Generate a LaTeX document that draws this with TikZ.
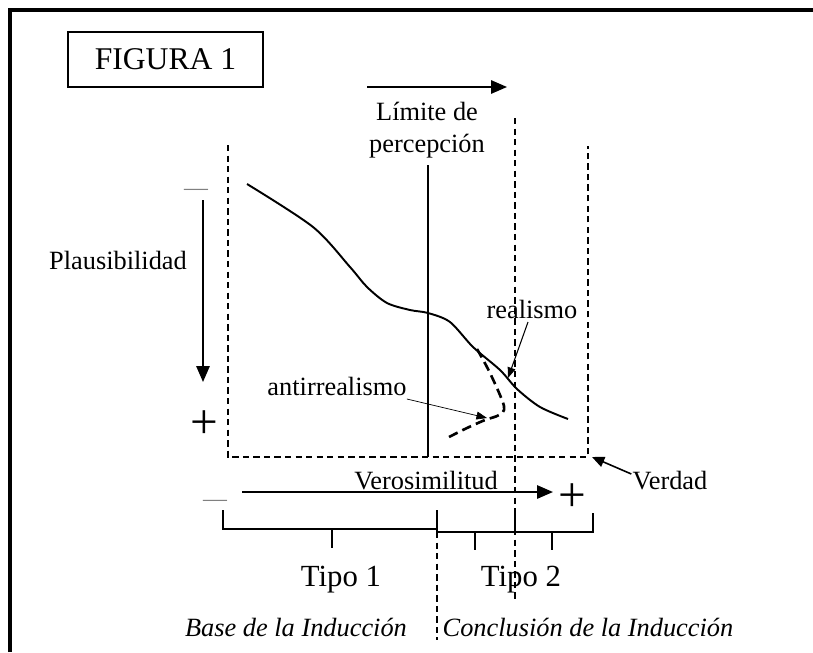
\documentclass[tikz,border=0pt]{standalone}
\usepackage{fontspec}
\setmainfont{Liberation Serif}
\usetikzlibrary{arrows.meta}

\begin{document}
\begin{tikzpicture}[x=0.02cm,y=-0.02cm]

    \tikzset{
      lbl/.style={anchor=base, inner sep=0pt, font=\fontsize{15}{18}\selectfont},
      tipo/.style={anchor=base, inner sep=0pt, font=\fontsize{17.5}{20}\selectfont},
      ind/.style={anchor=base, inner sep=0pt, font=\fontsize{15}{18}\selectfont\itshape},
      sign/.style={anchor=base, inner sep=0pt, font=\fontsize{28}{30}\selectfont},
      minus/.style={anchor=base, inner sep=0pt, text=gray, font=\fontsize{13.6}{16}\selectfont},
      limit/.style={dash pattern=on 3.6pt off 2.4pt, line width=0.9pt},
      axis/.style={line width=1.1pt, -{Triangle[length=9pt,width=7.5pt]}},
      pointer/.style={line width=0.6pt, -{Triangle[length=6pt,width=4.5pt]}},
      bracket/.style={line width=1.1pt},
    }
    \useasboundingbox (0,0) rectangle (813,652);
	\draw[line width=1.9pt] (10,652) -- (10,10) -- (813,10);
	\node[draw, line width=0.8pt, minimum width=3.9cm, minimum height=1.1cm, font=\fontsize{18}{20}\selectfont] (fig) at (165.5,59.5) {FIGURA 1\hspace{0.24cm}};

	\coordinate (top0) at (367,87);
	\coordinate (top1) at (507,87);
	\draw[axis] (top0) -- (top1);
	\node[lbl] (lim1) at (427,120) {Límite de};
	\node[lbl] (lim2) at (427,152) {percepción};

	\draw[limit] (228,145) -- (228,457) -- (588,457) -- (588,146);
	\draw[limit] (515,118) -- (515,600);
	\draw[limit] (437,532) -- (437,640);
	\draw[line width=1.1pt] (428,165) -- (428,457);

	\node[minus] (pmin) at (196,195) {—};
	\coordinate (plau0) at (203,200);
	\coordinate (plau1) at (203,382);
	\draw[axis] (plau0) -- (plau1);
	\node[sign] (pplus) at (204,438.5) {+};
	\node[lbl] (plau) at (118,269) {Plausibilidad};

	\draw[line width=1.1pt] plot[smooth] coordinates {(247,184) (313,227) (350,267) (367,287) (387,303) (410,310) (428,313) (450,322) (473,347) (500,370) (517,389) (540,407) (568,419)};
	\draw[line width=1.5pt, dash pattern=on 5.5pt off 3pt] plot[smooth] coordinates {(477,349) (490,373) (504,406) (499,415) (485,420) (467,428) (449,437)};

	\node[lbl] (real) at (532,318) {realismo};
	\coordinate (realtip) at (508,378);
	\draw[pointer] ([shift={(-4,4)}]real.base) -- (realtip);
	\node[lbl] (anti) at (337,395) {antirrealismo};
	\coordinate (antitip) at (487,418);
	\draw[pointer, line width=0.4pt] ([shift={(0,4)}]anti.base east) -- (antitip);

	\node[lbl] (verdad) at (670,489) {Verdad};
	\coordinate (verdadtip) at (592,457);
	\draw[axis, line width=0.9pt, -{Triangle[length=7pt,width=6pt]}] ([shift={(-1,-15)}]verdad.base west) -- (verdadtip);

	\node[minus] (vmin) at (215,506) {—};
	\coordinate (vero0) at (242,492);
	\coordinate (vero1) at (553,492);
	\draw[axis] (vero0) -- (vero1);
	\node[sign] (vplus) at (572,511.5) {+};
	\node[lbl] (vero) at (426,489) {Verosimilitud};

	\draw[bracket] (223,510) -- (223,529) -- (437,529);
	\draw[bracket] (437,510) -- (437,533);
	\draw[bracket] (332,529) -- (332,548);
	\draw[bracket] (437,532) -- (593,532) -- (593,513);
	\draw[bracket] (475,532) -- (475,550);
	\draw[bracket] (552,532) -- (552,550);
	\draw[bracket] (515,510) -- (515,532);

	\node[tipo] (tipo1) at (341,586) {Tipo 1};
	\node[tipo] (tipo2) at (521,586) {Tipo 2};
	\node[ind] (base) at (296,636) {Base de la Inducción};
	\node[ind] (concl) at (588,636) {Conclusión de la Inducción};

\end{tikzpicture}
\end{document}
